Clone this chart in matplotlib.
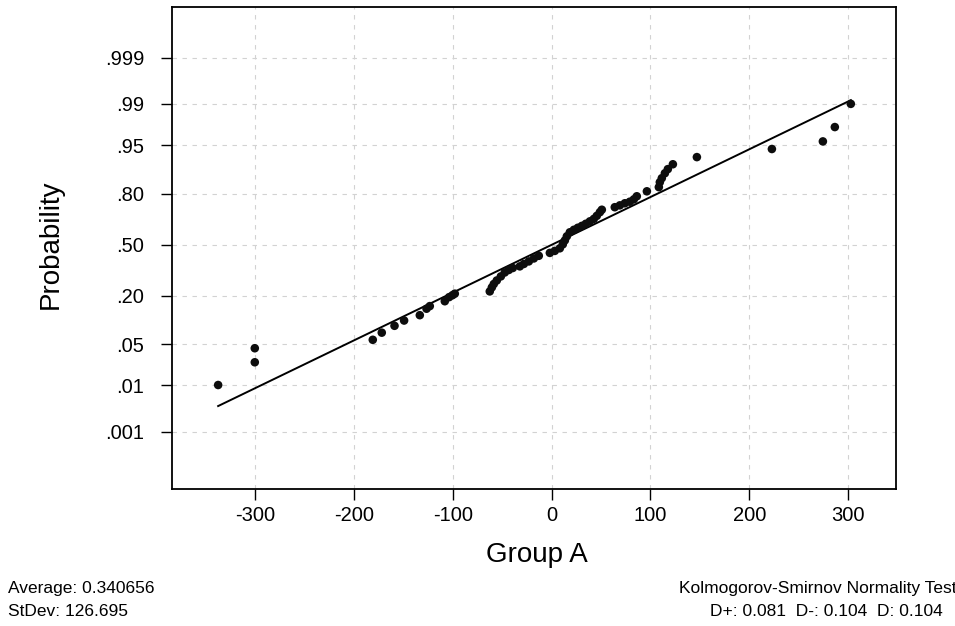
import numpy as np
import matplotlib
matplotlib.use('Agg')
import matplotlib.pyplot as plt
from statistics import NormalDist

plt.rcParams['font.family'] = ['Liberation Sans', 'DejaVu Sans']

# values
group_a = [-337.5, -300.4, -300.4, -181.0, -171.9, -159.0, -149.3, -133.4, -126.6, -123.3,
           -108.1, -103.7, -100.3, -98.0, -62.6, -60.5, -58.5, -55.5, -51.4, -47.4,
           -43.3, -39.3, -32.2, -28.1, -23.1, -18.0, -13.0, -1.8, 3.2, 8.3,
           11.3, 13.4, 15.4, 18.4, 22.5, 26.5, 30.6, 34.6, 38.7, 42.7,
           45.7, 48.8, 50.8, 63.9, 69.0, 74.1, 79.1, 83.2, 86.2, 96.4,
           108.5, 109.5, 111.5, 114.6, 117.6, 122.7, 147.0, 222.9, 274.5, 286.6,
           302.8]
prob = [0.0102, 0.026, 0.0435, 0.058, 0.073, 0.090, 0.105, 0.122, 0.145, 0.155,
        0.175, 0.193, 0.202, 0.209, 0.220, 0.240, 0.258, 0.277, 0.300, 0.323,
        0.338, 0.350, 0.360, 0.375, 0.391, 0.410, 0.427, 0.446, 0.459, 0.476,
        0.502, 0.528, 0.555, 0.581, 0.597, 0.610, 0.622, 0.635, 0.650, 0.665,
        0.683, 0.704, 0.718, 0.732, 0.742, 0.753, 0.761, 0.773, 0.788, 0.811,
        0.829, 0.849, 0.864, 0.881, 0.894, 0.908, 0.926, 0.943, 0.956, 0.974,
        0.990]

prob_ticks = [0.001, 0.01, 0.05, 0.20, 0.50, 0.80, 0.95, 0.99, 0.999]
prob_labels = ['.001', '.01', '.05', '.20', '.50', '.80', '.95', '.99', '.999']
x_ticks = [-300, -200, -100, 0, 100, 200, 300]

average = 0.340656
stdev = 126.695
d_plus, d_minus, d_stat = 0.081, 0.104, 0.104

nd = NormalDist()
_ppf = np.vectorize(nd.inv_cdf, otypes=[float])
_cdf = np.vectorize(nd.cdf, otypes=[float])


def forward(p):
    p = np.clip(np.asarray(p, dtype=float), 1e-12, 1 - 1e-12)
    return _ppf(p)


def inverse(z):
    return _cdf(np.asarray(z, dtype=float))


fig = plt.figure(figsize=(9.55, 6.26), dpi=100)
ax = fig.add_axes([0.1803, 0.2188, 0.7574, 0.7695])
ax.set_yscale('function', functions=(forward, inverse))

ax.set_xlim(-384, 348)
ax.set_ylim(2.7e-5, 0.999956)

# grid
for xt in x_ticks:
    ax.axvline(xt, color='#d2d2d2', lw=0.8, ls=(0, (4, 5)), zorder=0)
for pt in prob_ticks:
    ax.axhline(pt, color='#d2d2d2', lw=0.8, ls=(0, (4, 5)), zorder=0)

# fitted normal line from Average / StDev
x_line = np.array([min(group_a), max(group_a)])
p_line = inverse((x_line - average) / stdev)
ax.plot(x_line, p_line, color='black', lw=1.4, zorder=2)

ax.scatter(group_a, prob, s=38, color='#0d0d0d', edgecolors='none', zorder=3)

ax.set_xticks(x_ticks)
ax.set_xticklabels([str(v) for v in x_ticks])
ax.set_yticks(prob_ticks)
ax.set_yticklabels(prob_labels)
ax.minorticks_off()
ax.tick_params(axis='y', direction='out', length=8, width=1, pad=12, labelsize=14.5)
ax.tick_params(axis='x', direction='out', length=8, width=1, pad=4, labelsize=14.5)
for sp in ax.spines.values():
    sp.set_linewidth(1.3)

ax.set_ylabel('Probability', fontsize=20)
ax.yaxis.set_label_coords(-0.168, 0.509)
ax.set_xlabel('Group A', fontsize=20)
ax.xaxis.set_label_coords(0.504, -0.137)
ax.xaxis.label.set_va('center')
ax.yaxis.label.set_va('center')

fig.text(8 / 955, 1 - 588 / 626, 'Average: %s' % average, fontsize=12.5, va='center', ha='left')
fig.text(8 / 955, 1 - 612 / 626, 'StDev: %s' % stdev, fontsize=12.5, va='center', ha='left')
fig.text(679 / 955, 1 - 588 / 626, 'Kolmogorov-Smirnov Normality Test', fontsize=12.5,
         va='center', ha='left')
fig.text(710 / 955, 1 - 612 / 626,
         'D+: %.3f  D-: %.3f  D: %.3f' % (d_plus, d_minus, d_stat), fontsize=12.5,
         va='center', ha='left')

fig.savefig('out.png', dpi=100)
